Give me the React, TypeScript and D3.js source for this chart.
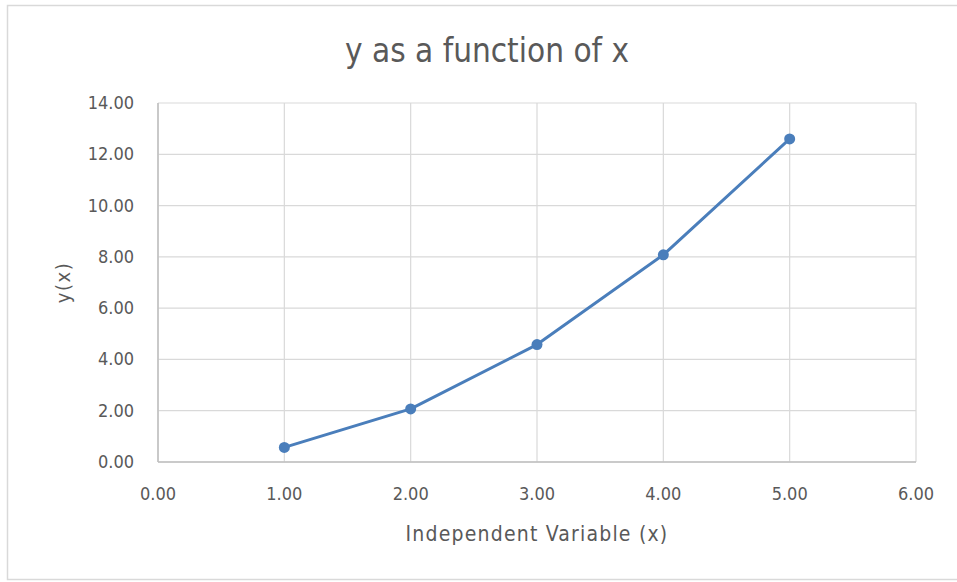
import React from "react";
import * as d3 from "d3";

const xValues = [1, 2, 3, 4, 5];
const yValues = [0.57, 2.07, 4.58, 8.08, 12.6];
const xTicks = [0, 1, 2, 3, 4, 5, 6];
const yTicks = [0, 2, 4, 6, 8, 10, 12, 14];

const title = "y as a function of x";
const xTitle = "Independent Variable (x)";
const yTitle = "y(x)";

const width = 957;
const height = 582;
const margin = { top: 103, right: 41, bottom: 120, left: 158 };

const font = "'DejaVu Sans Condensed', 'Liberation Sans', sans-serif";
const textColor = "#595959";
const lineColor = "#4a7ebb";

export default function App() {
  const x = d3.scaleLinear().domain([0, 6]).range([margin.left, width - margin.right]);
  const y = d3.scaleLinear().domain([0, 14]).range([height - margin.bottom, margin.top]);

  const points = xValues.map((v, i) => [v, yValues[i]] as [number, number]);
  const line = d3
    .line<[number, number]>()
    .x((d) => x(d[0]))
    .y((d) => y(d[1]));

  const [x0, x1] = x.range();
  const [y0, y1] = y.range();

  return (
    <svg
      width={width}
      height={height}
      style={{ position: "absolute", left: 0, top: 0, background: "#fff" }}
      fontFamily={font}
    >
      {/* chart frame */}
      <rect x={7.5} y={5.5} width={width + 10} height={574} fill="#fff" stroke="#d9d9d9" strokeWidth={1.5} />

      <text x={487} y={62} textAnchor="middle" fontSize={33} fill={textColor}>
        {title}
      </text>

      {/* grid */}
      {yTicks.map((t) => (
        <line key={"gy" + t} x1={x0} x2={x1} y1={y(t)} y2={y(t)} stroke="#d9d9d9" strokeWidth={1.2} />
      ))}
      {xTicks.map((t) => (
        <line key={"gx" + t} x1={x(t)} x2={x(t)} y1={y0} y2={y1} stroke="#d9d9d9" strokeWidth={1.2} />
      ))}
      {/* axes */}
      <line x1={x0} x2={x1} y1={y0} y2={y0} stroke="#bfbfbf" strokeWidth={1.5} />
      <line x1={x0} x2={x0} y1={y0} y2={y1} stroke="#bfbfbf" strokeWidth={1.5} />

      {yTicks.map((t) => (
        <text key={"ly" + t} x={134} y={y(t) + 6} textAnchor="end" fontSize={18} fill={textColor}>
          {t.toFixed(2)}
        </text>
      ))}
      {xTicks.map((t) => (
        <text key={"lx" + t} x={x(t)} y={500} textAnchor="middle" fontSize={18} fill={textColor}>
          {t.toFixed(2)}
        </text>
      ))}

      <text x={537} y={541} textAnchor="middle" fontSize={21} letterSpacing={1.2} fill={textColor}>
        {xTitle}
      </text>
      <text
        transform={`translate(70, ${(y0 + y1) / 2}) rotate(-90)`}
        textAnchor="middle"
        fontSize={20}
        letterSpacing={1.5}
        fill={textColor}
      >
        {yTitle}
      </text>

      <path d={line(points) || ""} fill="none" stroke={lineColor} strokeWidth={3} strokeLinejoin="round" />
      {points.map((p, i) => (
        <circle key={i} cx={x(p[0])} cy={y(p[1])} r={5.5} fill={lineColor} />
      ))}
    </svg>
  );
}
